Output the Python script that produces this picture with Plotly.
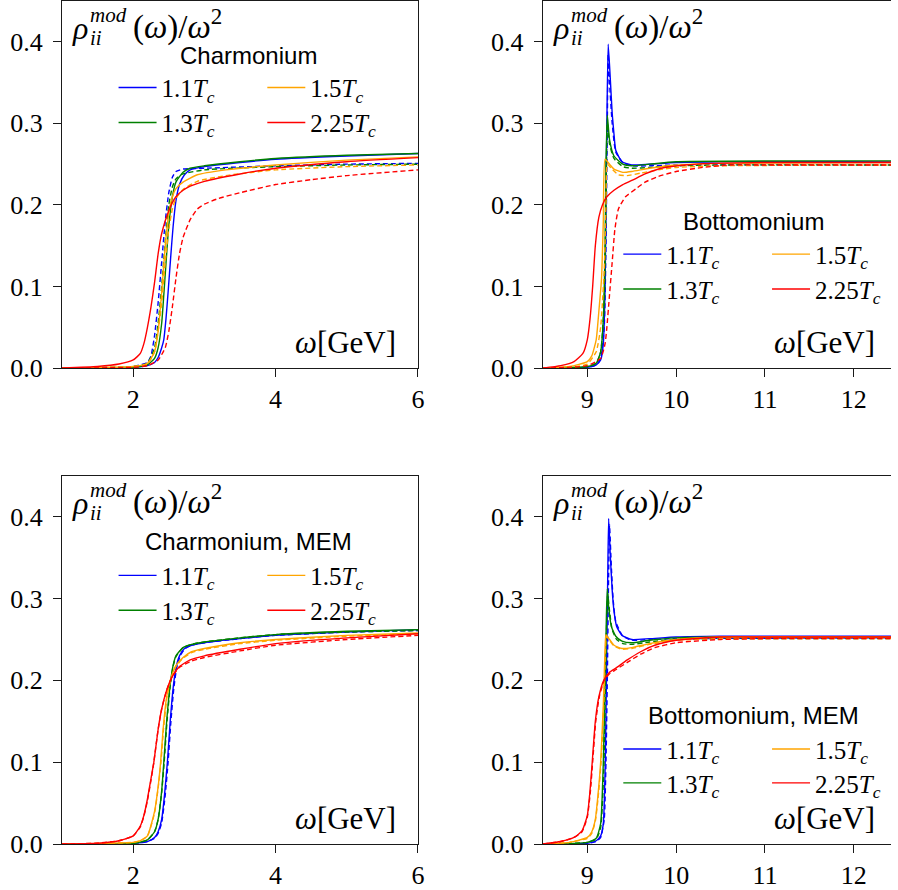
import plotly.graph_objects as go

# ---------------- Charmonium (top left) ----------------
c_w_11 = [1.0, 2.0, 2.2, 2.3, 2.35, 2.4, 2.43, 2.46, 2.49, 2.53, 2.56, 2.6, 2.65, 2.72, 2.8, 3.0, 3.5, 4.0, 5.0, 6.0]
c_r_11 = [0.0, 0.001, 0.003, 0.007, 0.013, 0.025, 0.035, 0.06, 0.093, 0.14, 0.173, 0.205, 0.225, 0.237, 0.243, 0.247, 0.252, 0.256, 0.260, 0.263]
c_w_13 = [1.0, 2.0, 2.2, 2.3, 2.35, 2.4, 2.43, 2.47, 2.5, 2.55, 2.6, 2.7, 2.8, 3.0, 3.5, 4.0, 5.0, 6.0]
c_r_13 = [0.0, 0.001, 0.004, 0.012, 0.025, 0.055, 0.09, 0.14, 0.175, 0.21, 0.228, 0.24, 0.245, 0.248, 0.253, 0.257, 0.261, 0.263]
c_w_15 = [1.0, 2.0, 2.2, 2.3, 2.35, 2.4, 2.45, 2.5, 2.55, 2.6, 2.7, 2.9, 3.3, 4.0, 5.0, 6.0]
c_r_15 = [0.0, 0.002, 0.006, 0.02, 0.045, 0.093, 0.15, 0.19, 0.21, 0.22, 0.228, 0.237, 0.243, 0.249, 0.255, 0.259]
c_w_225 = [1.0, 1.5, 1.8, 2.0, 2.1, 2.15, 2.2, 2.25, 2.3, 2.35, 2.4, 2.5, 2.6, 2.7, 2.8, 3.0, 3.5, 4.0, 5.0, 6.0]
c_r_225 = [0.0, 0.002, 0.005, 0.01, 0.018, 0.03, 0.05, 0.075, 0.105, 0.14, 0.165, 0.193, 0.21, 0.218, 0.223, 0.229, 0.238, 0.245, 0.253, 0.258]

c_w_11d = [1.0, 2.0, 2.2, 2.25, 2.3, 2.35, 2.4, 2.45, 2.5, 2.55, 2.6, 2.7, 3.0, 4.0, 5.0, 6.0]
c_r_11d = [0.0, 0.002, 0.007, 0.015, 0.04, 0.08, 0.13, 0.18, 0.215, 0.234, 0.241, 0.244, 0.245, 0.248, 0.250, 0.251]
c_w_13d = [1.0, 2.0, 2.2, 2.3, 2.35, 2.4, 2.45, 2.5, 2.55, 2.6, 2.7, 3.0, 4.0, 5.0, 6.0]
c_r_13d = [0.0, 0.002, 0.006, 0.025, 0.055, 0.1, 0.155, 0.2, 0.222, 0.232, 0.238, 0.243, 0.247, 0.249, 0.250]
c_w_15d = [1.0, 2.0, 2.2, 2.3, 2.35, 2.4, 2.45, 2.5, 2.55, 2.6, 2.7, 2.9, 3.3, 4.0, 5.0, 6.0]
c_r_15d = [0.0, 0.002, 0.005, 0.02, 0.045, 0.08, 0.13, 0.17, 0.195, 0.208, 0.219, 0.229, 0.236, 0.243, 0.247, 0.249]
c_w_225d = [1.0, 2.0, 2.2, 2.35, 2.45, 2.5, 2.55, 2.6, 2.65, 2.7, 2.8, 2.9, 3.0, 3.2, 3.5, 4.0, 4.5, 5.0, 6.0]
c_r_225d = [0.0, 0.001, 0.003, 0.01, 0.025, 0.045, 0.075, 0.11, 0.14, 0.16, 0.182, 0.195, 0.201, 0.208, 0.215, 0.225, 0.231, 0.236, 0.243]

# ---------------- Bottomonium (top right) ----------------
b_w_11 = [8.5, 9.0, 9.1, 9.15, 9.18, 9.2, 9.21, 9.22, 9.235, 9.26, 9.28, 9.3, 9.32, 9.39, 9.5, 9.7, 10.0, 10.5, 12.5]
b_r_11 = [0.0, 0.001, 0.004, 0.01, 0.03, 0.1, 0.2, 0.3, 0.397, 0.352, 0.312, 0.287, 0.267, 0.253, 0.249, 0.25, 0.252, 0.253, 0.253]
b_w_13 = [8.5, 9.0, 9.1, 9.15, 9.18, 9.2, 9.21, 9.225, 9.25, 9.3, 9.4, 9.5, 9.7, 10.0, 12.5]
b_r_13 = [0.0, 0.002, 0.006, 0.02, 0.06, 0.15, 0.25, 0.31, 0.28, 0.26, 0.25, 0.248, 0.25, 0.253, 0.254]
b_w_15 = [8.5, 8.8, 9.0, 9.05, 9.1, 9.13, 9.16, 9.18, 9.2, 9.25, 9.3, 9.4, 9.5, 9.7, 10.0, 10.5, 12.5]
b_r_15 = [0.0, 0.002, 0.008, 0.015, 0.035, 0.07, 0.11, 0.18, 0.256, 0.25, 0.244, 0.24, 0.241, 0.245, 0.249, 0.251, 0.252]
b_w_225 = [8.5, 8.7, 8.85, 8.95, 9.0, 9.03, 9.06, 9.09, 9.13, 9.17, 9.22, 9.3, 9.4, 9.5, 9.65, 9.83, 10.1, 10.4, 11.0, 12.5]
b_r_225 = [0.0, 0.003, 0.008, 0.018, 0.035, 0.06, 0.1, 0.15, 0.185, 0.2, 0.21, 0.218, 0.225, 0.23, 0.238, 0.245, 0.249, 0.251, 0.252, 0.252]

b_w_11d = [8.5, 9.0, 9.1, 9.15, 9.19, 9.21, 9.225, 9.235, 9.25, 9.28, 9.32, 9.4, 9.5, 9.7, 10.0, 12.5]
b_r_11d = [0.0, 0.001, 0.004, 0.012, 0.05, 0.15, 0.3, 0.385, 0.35, 0.3, 0.265, 0.252, 0.248, 0.248, 0.249, 0.249]
b_w_13d = [8.5, 9.0, 9.1, 9.15, 9.19, 9.21, 9.225, 9.25, 9.3, 9.4, 9.5, 9.7, 10.0, 10.5, 12.5]
b_r_13d = [0.0, 0.002, 0.006, 0.02, 0.08, 0.2, 0.3, 0.275, 0.257, 0.247, 0.245, 0.246, 0.248, 0.249, 0.249]
b_w_15d = [8.5, 8.8, 9.0, 9.1, 9.15, 9.19, 9.21, 9.225, 9.27, 9.35, 9.45, 9.6, 9.8, 10.0, 10.5, 12.5]
b_r_15d = [0.0, 0.001, 0.005, 0.02, 0.05, 0.12, 0.2, 0.25, 0.245, 0.237, 0.236, 0.239, 0.243, 0.246, 0.248, 0.249]
b_w_225d = [8.5, 9.0, 9.15, 9.2, 9.22, 9.25, 9.28, 9.31, 9.35, 9.43, 9.55, 9.65, 9.8, 10.0, 10.3, 10.6, 11.0, 12.5]
b_r_225d = [0.0, 0.003, 0.012, 0.03, 0.05, 0.09, 0.13, 0.17, 0.195, 0.21, 0.22, 0.228, 0.235, 0.241, 0.246, 0.249, 0.249, 0.249]

# ---------------- Charmonium, MEM (bottom left) ----------------
cm_w_11 = [1.0, 2.0, 2.2, 2.3, 2.35, 2.4, 2.44, 2.48, 2.52, 2.56, 2.6, 2.65, 2.72, 2.82, 3.0, 3.5, 4.0, 5.0, 6.0]
cm_r_11 = [0.0, 0.001, 0.003, 0.008, 0.015, 0.03, 0.06, 0.1, 0.15, 0.19, 0.215, 0.23, 0.239, 0.243, 0.246, 0.251, 0.255, 0.259, 0.262]
cm_w_13 = [1.0, 2.0, 2.2, 2.3, 2.35, 2.4, 2.43, 2.47, 2.52, 2.56, 2.6, 2.7, 2.82, 3.0, 3.5, 4.0, 5.0, 6.0]
cm_r_13 = [0.0, 0.001, 0.005, 0.015, 0.03, 0.065, 0.1, 0.15, 0.195, 0.218, 0.23, 0.24, 0.244, 0.247, 0.252, 0.256, 0.26, 0.262]
cm_w_15 = [1.0, 2.0, 2.1, 2.2, 2.3, 2.35, 2.385, 2.42, 2.47, 2.52, 2.6, 2.7, 2.82, 3.0, 3.5, 4.0, 5.0, 6.0]
cm_r_15 = [0.0, 0.002, 0.004, 0.01, 0.04, 0.07, 0.1, 0.14, 0.18, 0.2, 0.218, 0.228, 0.235, 0.239, 0.246, 0.25, 0.255, 0.258]
cm_w_225 = [1.0, 1.5, 1.8, 2.0, 2.1, 2.15, 2.2, 2.25, 2.29, 2.35, 2.4, 2.47, 2.55, 2.65, 2.8, 3.0, 3.5, 4.0, 5.0, 6.0]
cm_r_225 = [0.0, 0.001, 0.004, 0.01, 0.022, 0.035, 0.055, 0.08, 0.1, 0.14, 0.165, 0.188, 0.205, 0.217, 0.225, 0.23, 0.238, 0.245, 0.252, 0.257]

cm_w_11d = [1.0, 2.0, 2.2, 2.3, 2.35, 2.4, 2.45, 2.49, 2.53, 2.57, 2.61, 2.66, 2.73, 2.82, 3.0, 3.5, 4.0, 5.0, 6.0]
cm_r_11d = [0.0, 0.001, 0.003, 0.007, 0.013, 0.026, 0.06, 0.1, 0.15, 0.19, 0.215, 0.23, 0.239, 0.243, 0.246, 0.251, 0.255, 0.259, 0.261]
cm_w_13d = [1.0, 2.0, 2.2, 2.3, 2.35, 2.4, 2.435, 2.475, 2.52, 2.56, 2.6, 2.7, 2.82, 3.0, 3.5, 4.0, 5.0, 6.0]
cm_r_13d = [0.0, 0.001, 0.005, 0.015, 0.03, 0.063, 0.1, 0.15, 0.193, 0.217, 0.229, 0.24, 0.244, 0.247, 0.252, 0.256, 0.259, 0.261]
cm_w_15d = [1.0, 2.0, 2.1, 2.2, 2.3, 2.35, 2.39, 2.425, 2.475, 2.525, 2.6, 2.7, 2.82, 3.0, 3.5, 4.0, 5.0, 6.0]
cm_r_15d = [0.0, 0.002, 0.004, 0.01, 0.038, 0.068, 0.1, 0.14, 0.18, 0.2, 0.217, 0.227, 0.234, 0.238, 0.245, 0.249, 0.254, 0.257]
cm_w_225d = [1.0, 1.5, 1.8, 2.0, 2.1, 2.15, 2.2, 2.25, 2.29, 2.35, 2.4, 2.47, 2.55, 2.65, 2.8, 3.0, 3.5, 4.0, 5.0, 6.0]
cm_r_225d = [0.0, 0.001, 0.004, 0.01, 0.021, 0.034, 0.053, 0.078, 0.1, 0.14, 0.165, 0.188, 0.205, 0.216, 0.223, 0.228, 0.236, 0.243, 0.25, 0.255]

# ---------------- Bottomonium, MEM (bottom right) ----------------
bm_w_11 = [8.5, 9.0, 9.1, 9.15, 9.18, 9.2, 9.215, 9.23, 9.24, 9.26, 9.28, 9.3, 9.33, 9.39, 9.5, 9.7, 10.0, 10.5, 12.5]
bm_r_11 = [0.0, 0.001, 0.004, 0.01, 0.025, 0.09, 0.2, 0.33, 0.398, 0.35, 0.31, 0.285, 0.266, 0.255, 0.25, 0.251, 0.253, 0.254, 0.254]
bm_w_13 = [8.5, 9.0, 9.1, 9.15, 9.18, 9.2, 9.215, 9.225, 9.24, 9.27, 9.32, 9.39, 9.5, 9.7, 10.0, 10.5, 12.5]
bm_r_13 = [0.0, 0.002, 0.007, 0.025, 0.1, 0.2, 0.28, 0.312, 0.29, 0.266, 0.254, 0.248, 0.246, 0.249, 0.252, 0.253, 0.253]
bm_w_15 = [8.5, 8.8, 9.0, 9.05, 9.09, 9.12, 9.15, 9.18, 9.2, 9.21, 9.25, 9.3, 9.39, 9.5, 9.7, 10.0, 10.5, 12.5]
bm_r_15 = [0.0, 0.002, 0.008, 0.015, 0.03, 0.06, 0.1, 0.17, 0.24, 0.256, 0.25, 0.243, 0.239, 0.24, 0.245, 0.25, 0.253, 0.253]
bm_w_225 = [8.5, 8.7, 8.85, 8.94, 9.0, 9.03, 9.055, 9.09, 9.13, 9.185, 9.25, 9.32, 9.45, 9.6, 9.76, 10.0, 10.5, 11.0, 12.5]
bm_r_225 = [0.0, 0.003, 0.008, 0.016, 0.035, 0.065, 0.1, 0.15, 0.18, 0.2, 0.21, 0.215, 0.225, 0.235, 0.243, 0.249, 0.253, 0.253, 0.253]

bm_w_11d = [8.5, 9.0, 9.1, 9.15, 9.19, 9.21, 9.225, 9.24, 9.25, 9.27, 9.29, 9.32, 9.4, 9.5, 9.7, 10.0, 12.5]
bm_r_11d = [0.0, 0.001, 0.003, 0.008, 0.03, 0.1, 0.2, 0.33, 0.39, 0.34, 0.3, 0.272, 0.254, 0.249, 0.25, 0.251, 0.252]
bm_w_13d = [8.5, 9.0, 9.1, 9.15, 9.185, 9.205, 9.22, 9.23, 9.25, 9.28, 9.33, 9.4, 9.5, 9.7, 10.0, 10.5, 12.5]
bm_r_13d = [0.0, 0.002, 0.006, 0.02, 0.09, 0.2, 0.28, 0.305, 0.285, 0.262, 0.25, 0.245, 0.244, 0.247, 0.25, 0.251, 0.251]
bm_w_15d = [8.5, 8.8, 9.0, 9.05, 9.09, 9.12, 9.155, 9.185, 9.205, 9.215, 9.25, 9.3, 9.39, 9.5, 9.7, 10.0, 10.5, 12.5]
bm_r_15d = [0.0, 0.002, 0.007, 0.013, 0.028, 0.055, 0.1, 0.17, 0.24, 0.254, 0.249, 0.242, 0.238, 0.239, 0.244, 0.249, 0.251, 0.251]
bm_w_225d = [8.5, 8.7, 8.85, 8.94, 9.0, 9.035, 9.06, 9.095, 9.135, 9.19, 9.25, 9.32, 9.45, 9.6, 9.76, 10.0, 10.5, 11.0, 12.5]
bm_r_225d = [0.0, 0.003, 0.008, 0.015, 0.033, 0.065, 0.1, 0.15, 0.18, 0.2, 0.208, 0.213, 0.222, 0.232, 0.24, 0.246, 0.25, 0.251, 0.251]

temps = ["1.1", "1.3", "1.5", "2.25"]
colors = {"1.1": "#0000ff", "1.3": "#008000", "1.5": "#ffa500", "2.25": "#ff0000"}
panel_titles = ["Charmonium", "Bottomonium", "Charmonium, MEM", "Bottomonium, MEM"]

panel_curves = [
    {"1.1": (c_w_11, c_r_11, c_w_11d, c_r_11d), "1.3": (c_w_13, c_r_13, c_w_13d, c_r_13d),
     "1.5": (c_w_15, c_r_15, c_w_15d, c_r_15d), "2.25": (c_w_225, c_r_225, c_w_225d, c_r_225d)},
    {"1.1": (b_w_11, b_r_11, b_w_11d, b_r_11d), "1.3": (b_w_13, b_r_13, b_w_13d, b_r_13d),
     "1.5": (b_w_15, b_r_15, b_w_15d, b_r_15d), "2.25": (b_w_225, b_r_225, b_w_225d, b_r_225d)},
    {"1.1": (cm_w_11, cm_r_11, cm_w_11d, cm_r_11d), "1.3": (cm_w_13, cm_r_13, cm_w_13d, cm_r_13d),
     "1.5": (cm_w_15, cm_r_15, cm_w_15d, cm_r_15d), "2.25": (cm_w_225, cm_r_225, cm_w_225d, cm_r_225d)},
    {"1.1": (bm_w_11, bm_r_11, bm_w_11d, bm_r_11d), "1.3": (bm_w_13, bm_r_13, bm_w_13d, bm_r_13d),
     "1.5": (bm_w_15, bm_r_15, bm_w_15d, bm_r_15d), "2.25": (bm_w_225, bm_r_225, bm_w_225d, bm_r_225d)},
]

# ---------------- geometry (pixels) ----------------
W, H = 898, 890
ML, MR, MT, MB = 62, 0, 1, 44
PW, PH = W - ML - MR, H - MT - MB


def fx(px):
    return (px - ML) / PW


def fy(py):
    return (H - MB - py) / PH


# panel boxes: left, right, top, bottom
boxes = [(62, 421, 1, 369), (547, 898, 1, 369), (62, 421, 477, 846), (547, 898, 477, 846)]
xranges = [[1, 6], [8.5, 12.42], [1, 6], [8.5, 12.42]]
xticks = [[2, 4, 6], [9, 10, 11, 12], [2, 4, 6], [9, 10, 11, 12]]
# legend layout per panel: heading centre, column line starts, row centres
leg_title = [(250, 56), (759, 222), (250, 543), (759, 717)]
leg_cols = [(119, 269), (628, 778), (119, 269), (628, 778)]
leg_rows = [(88, 123), (255, 290), (577, 612), (751, 785)]
slot = {"1.1": (0, 0), "1.5": (1, 0), "1.3": (0, 1), "2.25": (1, 1)}

SERIF = "Liberation Serif"
SANS = "Liberation Sans"
AX = "#1a1a1a"

fig = go.Figure()
layout = dict(
    width=W, height=H, margin=dict(l=ML, r=MR, t=MT, b=MB),
    paper_bgcolor="white", plot_bgcolor="white", showlegend=True,
)
annotations = []
leg_n = 0

for p in range(4):
    L, R, T, B = boxes[p]
    sfx = "" if p == 0 else str(p + 1)
    xa, ya = "x" + sfx, "y" + sfx
    left_col = p in (0, 2)
    layout["xaxis" + sfx] = dict(
        domain=[fx(L), fx(R)], range=xranges[p], anchor=ya,
        tickvals=xticks[p], ticks="outside", ticklen=8, tickwidth=1.3, tickcolor=AX,
        showline=True, linecolor=AX, linewidth=1.3, mirror=True,
        showgrid=False, zeroline=False,
        tickfont=dict(family=SERIF, size=26, color="black"),
    )
    layout["yaxis" + sfx] = dict(
        domain=[fy(B), fy(T)], range=[0, 0.45], anchor=xa,
        tickvals=[0, 0.1, 0.2, 0.3, 0.4], tickformat=".1f",
        ticks="outside", ticklen=8, tickwidth=1.3, tickcolor=AX, ticklabelstandoff=5,
        showline=True, linecolor=AX, linewidth=1.3, mirror=left_col,
        showgrid=False, zeroline=False,
        tickfont=dict(family=SERIF, size=26, color="black"),
    )
    for t in temps:
        ws, rs, wd, rd = panel_curves[p][t]
        leg_n += 1
        lname = "legend" if leg_n == 1 else "legend%d" % leg_n
        fig.add_trace(go.Scatter(
            x=ws, y=rs, xaxis=xa, yaxis=ya, mode="lines",
            line=dict(color=colors[t], width=1.4, shape="spline", smoothing=0.5),
            name="%s<i>T</i><sub><i>c</i></sub>" % t, legend=lname, showlegend=True,
        ))
        fig.add_trace(go.Scatter(
            x=wd, y=rd, xaxis=xa, yaxis=ya, mode="lines",
            line=dict(color=colors[t], width=1.4, dash="5px,3px", shape="spline", smoothing=0.5),
            showlegend=False,
        ))
        c, r = slot[t]
        layout[lname] = dict(
            x=fx(leg_cols[p][c] - 5), y=fy(leg_rows[p][r]), xanchor="left", yanchor="middle",
            bgcolor="rgba(0,0,0,0)", borderwidth=0, itemwidth=38,
            font=dict(family=SERIF, size=25, color="black"), itemclick=False,
        )
    # legend heading
    tx, ty = leg_title[p]
    annotations.append(dict(
        x=fx(tx), y=fy(ty), xref="paper", yref="paper", xanchor="center", yanchor="middle",
        text=panel_titles[p], showarrow=False, font=dict(family=SANS, size=24, color="black"),
    ))
    # y-axis quantity written inside the frame
    annotations += [
        dict(x=fx(L + 9), y=fy(T + 27), text="<i>ρ</i>", font=dict(family=SERIF, size=32, color="black")),
        dict(x=fx(L + 27), y=fy(T + 14), text="<i>mod</i>", font=dict(family=SERIF, size=21, color="black")),
        dict(x=fx(L + 27), y=fy(T + 37), text="<i>ii</i>", font=dict(family=SERIF, size=21, color="black")),
        dict(x=fx(L + 71), y=fy(T + 24), text="(<i>ω</i>)/<i>ω</i><sup>2</sup>",
             font=dict(family=SERIF, size=33, color="black")),
    ]
    for a in annotations[-4:]:
        a.update(xref="paper", yref="paper", xanchor="left", yanchor="middle", showarrow=False,
                 borderpad=0)
    # x-axis quantity
    xr = 401 if left_col else 884
    annotations.append(dict(
        x=fx(xr), y=fy(B - 26), xref="paper", yref="paper", xanchor="right", yanchor="middle",
        text="<i>ω</i>[GeV]", showarrow=False, font=dict(family=SERIF, size=31, color="black"),
    ))

layout["annotations"] = annotations
fig.update_layout(**layout)
fig.write_html("out.html")
